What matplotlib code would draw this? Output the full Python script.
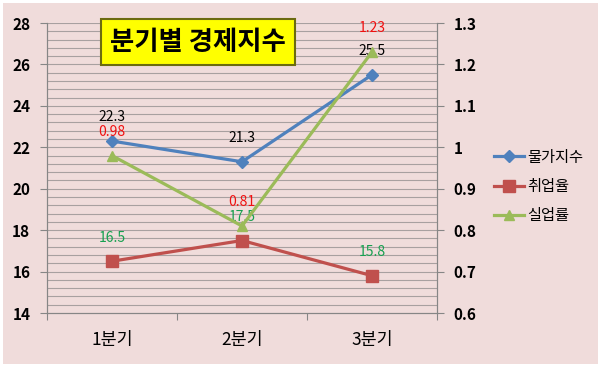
import matplotlib.pyplot as plt
from matplotlib.patches import Rectangle
import numpy as np

plt.rcParams['font.family'] = ['Noto Sans CJK KR', 'DejaVu Sans']

# 데이터
quarters = ["1분기", "2분기", "3분기"]
price_idx = [22.3, 21.3, 25.5]      # 물가지수 (왼쪽 축)
employ_rate = [16.5, 17.5, 15.8]    # 취업율 (왼쪽 축)
unemploy_rate = [0.98, 0.81, 1.23]  # 실업률 (오른쪽 축)

blue = "#4F81BD"
red = "#C0504D"
green = "#9BBB59"
axis_gray = "#868686"

fig = plt.figure(figsize=(6.04, 3.71), dpi=100)
fig.patch.set_facecolor("white")
# 차트 영역 배경 (분홍) - 축보다 아래에
fig.patches.append(Rectangle((3 / 604, 7 / 371), 595 / 604, 361 / 371,
                             transform=fig.transFigure, facecolor="#F0DCDB",
                             edgecolor="none", zorder=-5))

ax = fig.add_axes([47 / 604, 58 / 371, 390 / 604, 290 / 371])
ax.set_facecolor("none")
ax2 = ax.twinx()

x = np.arange(len(quarters))

# 보조 눈금선 0.4 간격
for g in np.arange(14.4, 28.01, 0.4):
    ax.axhline(g, color="#A8A0A0", lw=0.8, zorder=0)

ax.plot(x, price_idx, color=blue, lw=2.3, marker="D", ms=6, label="물가지수", zorder=3)
ax.plot(x, employ_rate, color=red, lw=2.3, marker="s", ms=8, label="취업율", zorder=3)
ax2.plot(x, unemploy_rate, color=green, lw=2.3, marker="^", ms=7, label="실업률", zorder=3)

ax.set_xlim(-0.5, 2.5)
ax.set_ylim(14, 28)
ax2.set_ylim(0.6, 1.3)
ax.set_yticks(np.arange(14, 28.1, 2))
ax2.set_yticks(np.arange(0.6, 1.31, 0.1))
ax2.set_yticklabels(["0.6", "0.7", "0.8", "0.9", "1", "1.1", "1.2", "1.3"])

# 카테고리 경계에 눈금
ax.set_xticks([-0.5, 0.5, 1.5, 2.5])
ax.set_xticklabels([])
ax.set_xticks(x, minor=True)
ax.set_xticklabels(quarters, minor=True, fontsize=12.5)
ax.tick_params(axis="x", which="minor", length=0, pad=13)
ax.tick_params(axis="x", which="major", length=5, color=axis_gray)
ax.tick_params(axis="y", length=5, color=axis_gray, labelsize=11, pad=7)
ax2.tick_params(axis="y", length=5, color=axis_gray, labelsize=11, pad=7)
for lab in ax.get_yticklabels() + ax2.get_yticklabels():
    lab.set_fontweight("bold")

for a in (ax, ax2):
    a.spines["top"].set_visible(False)
    for s in ("left", "right", "bottom"):
        a.spines[s].set_color(axis_gray)

# 데이터 레이블
for i in range(3):
    ax.annotate(f"{price_idx[i]}", (x[i], price_idx[i]), xytext=(0, 17),
                textcoords="offset points", ha="center", va="center",
                fontsize=10, color="black", zorder=5)
    ax.annotate(f"{employ_rate[i]}", (x[i], employ_rate[i]), xytext=(0, 17),
                textcoords="offset points", ha="center", va="center",
                fontsize=10, color="#16A050", zorder=5)
    ax2.annotate(f"{unemploy_rate[i]}", (x[i], unemploy_rate[i]), xytext=(0, 17),
                 textcoords="offset points", ha="center", va="center",
                 fontsize=10, color="#F01010", zorder=5)

# 제목 상자
fig.text(198 / 604, 1 - 42 / 371, "분기별 경제지수", fontsize=19, fontweight="bold",
         ha="center", va="center",
         bbox=dict(boxstyle="square,pad=0.35", facecolor="#FFFF00",
                   edgecolor="#6B6B10", linewidth=1.5))

h1, l1 = ax.get_legend_handles_labels()
h2, l2 = ax2.get_legend_handles_labels()
fig.legend(h1 + h2, l1 + l2, loc="upper left", bbox_to_anchor=(480 / 604, 1 - 135 / 371),
           frameon=False, fontsize=11, handlelength=2.0, labelspacing=0.8,
           handletextpad=0.2)

fig.savefig("out.png", dpi=100)
